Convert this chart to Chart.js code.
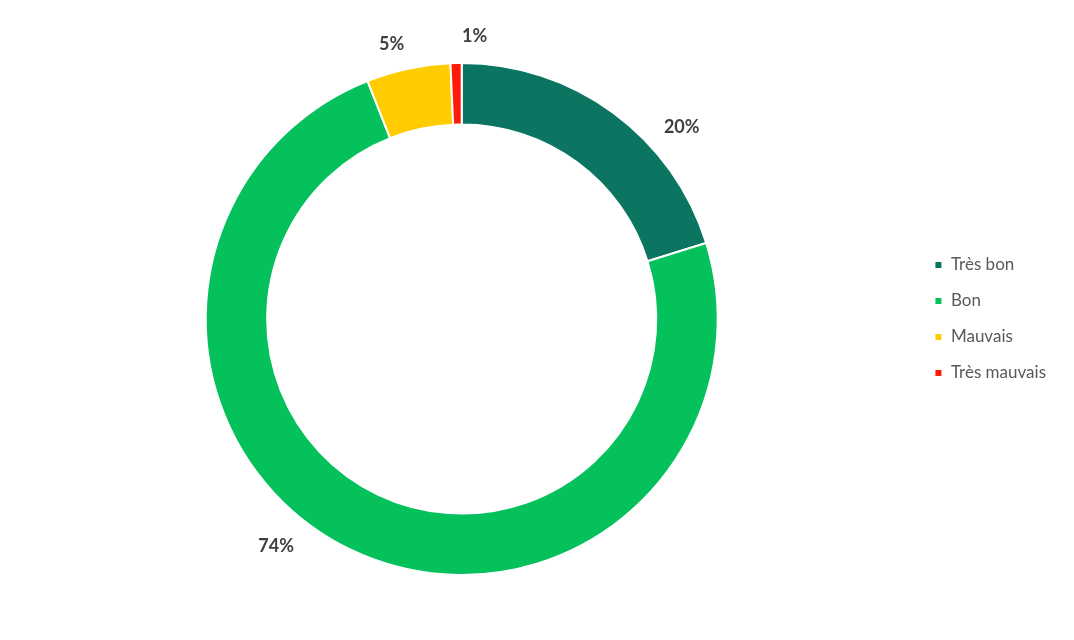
<!DOCTYPE html>
<html>
<head>
<meta charset="utf-8">
<script src="https://cdn.jsdelivr.net/npm/chart.js@4"></script>
<style>
  html, body { margin: 0; padding: 0; background: #fff; }
  #wrap { width: 1074px; height: 640px; }
</style>
</head>
<body>
<div id="wrap"><canvas id="chart" width="1074" height="640"></canvas></div>
<script>
// Appréciation - répartition en %
const categories = ['Très bon', 'Bon', 'Mauvais', 'Très mauvais'];
const shares = [20.2, 73.8, 5.3, 0.7];
const colors = ['#0B7561', '#04C15C', '#FFCC00', '#FF1A0A'];

// where each outside label sits (degrees clockwise from top + distance from centre), hand-placed like in the source
const labelAngles = [48.9, 219.3, 345.7, 2.6];
const labelRadii = [292, 293, 284, 283];

const outsideLabels = {
  id: 'outsideLabels',
  afterDatasetsDraw(chart) {
    const ctx = chart.ctx;
    const meta = chart.getDatasetMeta(0);
    ctx.save();
    ctx.font = 'bold 18px Lato, "Open Sans", sans-serif';
    ctx.fillStyle = '#404040';
    ctx.textAlign = 'center';
    ctx.textBaseline = 'middle';
    meta.data.forEach((arc, i) => {
      const a = labelAngles[i] * Math.PI / 180;
      const x = arc.x + labelRadii[i] * Math.sin(a);
      const y = arc.y - labelRadii[i] * Math.cos(a);
      ctx.fillText(Math.round(shares[i]) + '%', x, y);
    });
    ctx.restore();
  }
};

new Chart(document.getElementById('chart').getContext('2d'), {
  type: 'doughnut',
  data: {
    labels: categories,
    datasets: [{
      data: shares,
      backgroundColor: colors,
      borderColor: '#ffffff',
      borderWidth: 2
    }]
  },
  options: {
    responsive: false,
    animation: false,
    cutout: '76%',
    layout: { padding: { top: 62, bottom: 64, left: 8, right: 18 } },
    plugins: {
      legend: {
        position: 'right',
        labels: {
          boxWidth: 8,
          boxHeight: 8,
          padding: 19,
          color: '#595959',
          font: { family: 'Lato, "Open Sans", sans-serif', size: 17 }
        }
      },
      tooltip: { enabled: false }
    }
  },
  plugins: [outsideLabels]
});
</script>
</body>
</html>
